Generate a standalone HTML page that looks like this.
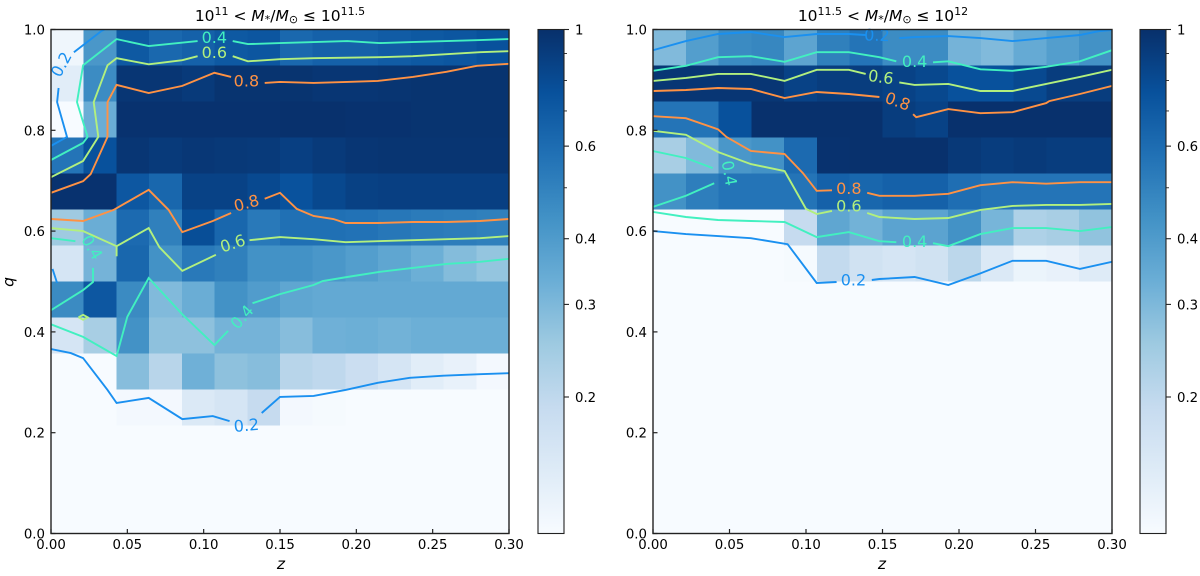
<!DOCTYPE html>
<html lang="en">
<head>
<meta charset="utf-8">
<title>Fraction maps in q and z</title>
<style>
html,body{margin:0;padding:0;background:#fff;width:1200px;height:576px;overflow:hidden}
svg{display:block}
text{font-family:"DejaVu Sans","Liberation Sans",sans-serif;fill:#000}
</style>
</head>
<body>
<svg id="chart" width="1200" height="576" viewBox="0 0 1200 576" xmlns="http://www.w3.org/2000/svg">
  <defs>
    <linearGradient id="blues" x1="0" y1="1" x2="0" y2="0">
      <stop offset="0" stop-color="#f7fbff"/><stop offset="0.125" stop-color="#deebf7"/>
      <stop offset="0.25" stop-color="#c6dbef"/><stop offset="0.375" stop-color="#9ecae1"/>
      <stop offset="0.5" stop-color="#6baed6"/><stop offset="0.625" stop-color="#4292c6"/>
      <stop offset="0.75" stop-color="#2171b5"/><stop offset="0.875" stop-color="#08519c"/>
      <stop offset="1" stop-color="#08306b"/>
    </linearGradient>
    <clipPath id="clip-left"><rect x="51" y="29.5" width="458" height="504"/></clipPath>
    <clipPath id="clip-right"><rect x="653" y="29.5" width="459" height="504"/></clipPath>
  </defs>
  <text x="280" y="21" text-anchor="middle" font-size="15.5">10<tspan dy="-6" font-size="11">11</tspan><tspan dy="6"> &lt; </tspan><tspan font-style="italic">M</tspan><tspan dy="2" font-size="11">*</tspan><tspan dy="-2">/</tspan><tspan font-style="italic">M</tspan><tspan dy="2" font-size="11">⊙</tspan><tspan dy="-2"> ≤ 10</tspan><tspan dy="-6" font-size="11">11.5</tspan></text>
  <text x="883" y="21" text-anchor="middle" font-size="15.5">10<tspan dy="-6" font-size="11">11.5</tspan><tspan dy="6"> &lt; </tspan><tspan font-style="italic">M</tspan><tspan dy="2" font-size="11">*</tspan><tspan dy="-2">/</tspan><tspan font-style="italic">M</tspan><tspan dy="2" font-size="11">⊙</tspan><tspan dy="-2"> ≤ 10</tspan><tspan dy="-6" font-size="11">12</tspan></text>
  <text transform="translate(13.5,282) rotate(-90)" text-anchor="middle" font-size="15.5" font-style="italic">q</text>
  <text x="281" y="569" text-anchor="middle" font-size="15.5" font-style="italic">z</text>
  <text x="882" y="569" text-anchor="middle" font-size="15.5" font-style="italic">z</text>
</svg>
<script>
// ---- axis ticks ----
const xTicks = [0, 0.05, 0.10, 0.15, 0.20, 0.25, 0.30];
const yTicks = [0, 0.2, 0.4, 0.6, 0.8, 1.0];
const colorbarTicks = [1, 0.6, 0.4, 0.3, 0.2];
const colorbarMinorTicks = [0.9, 0.8, 0.7, 0.5];
const colorbarTickLabels = ['1', '0.6', '0.4', '0.3', '0.2'];
const colorMin = 0.11;
const colorMax = 1;
const levels = [0.2, 0.4, 0.6, 0.8];

// ---- heatmap values: rows run from q = 1 (top) to q = 0, 14 columns in z ----
const leftGrid = [
 [.12,.415,.71,.62,.66,.71,.73,.62,.66,.66,.69,.71,.73,.76],
 [.14,.46,.95,.95,.92,.97,.97,.97,.95,.95,.96,.97,.97,.97],
 [.11,.335,.98,.98,.98,.98,.98,.99,.99,.98,.98,.97,.97,.97],
 [.56,.76,.95,.92,.94,.93,.92,.88,.92,.95,.96,.96,.96,.96],
 [.98,.98,.72,.63,.86,.86,.81,.75,.82,.87,.88,.88,.88,.88],
 [.25,.335,.61,.51,.78,.63,.54,.58,.58,.57,.55,.53,.52,.51],
 [.16,.315,.63,.435,.54,.51,.435,.435,.415,.39,.36,.33,.29,.265],
 [.465,.72,.465,.295,.335,.435,.395,.36,.35,.35,.35,.35,.35,.35],
 [.16,.235,.435,.275,.275,.315,.315,.285,.325,.33,.32,.33,.33,.33],
 [.11,.11,.285,.21,.325,.275,.285,.21,.2,.18,.16,.14,.13,.115],
 [.11,.11,.115,.115,.15,.16,.19,.115,.112,.11,.11,.11,.11,.11],
 [.11,.11,.11,.11,.11,.11,.11,.11,.11,.11,.11,.11,.11,.11],
 [.11,.11,.11,.11,.11,.11,.11,.11,.11,.11,.11,.11,.11,.11],
 [.11,.11,.11,.11,.11,.11,.11,.11,.11,.11,.11,.11,.11,.11]
];
const rightGrid = [
 [.295,.39,.465,.48,.365,.51,.56,.46,.46,.315,.295,.345,.39,.435],
 [.95,.95,.95,.95,.86,.9,.9,.86,.82,.76,.76,.81,.9,.9],
 [.56,.56,.76,.99,.99,.99,.99,.9,.86,.99,.99,.99,.99,.99],
 [.235,.295,.415,.435,.61,.98,.99,.99,.99,.93,.9,.92,.9,.9],
 [.435,.515,.56,.56,.56,.66,.63,.66,.66,.59,.56,.56,.56,.56],
 [.11,.11,.11,.11,.19,.36,.32,.37,.37,.435,.31,.225,.235,.27],
 [.11,.11,.11,.11,.112,.195,.17,.16,.17,.205,.15,.125,.13,.145],
 [.11,.11,.11,.11,.11,.11,.11,.11,.11,.11,.11,.11,.11,.11],
 [.11,.11,.11,.11,.11,.11,.11,.11,.11,.11,.11,.11,.11,.11],
 [.11,.11,.11,.11,.11,.11,.11,.11,.11,.11,.11,.11,.11,.11],
 [.11,.11,.11,.11,.11,.11,.11,.11,.11,.11,.11,.11,.11,.11],
 [.11,.11,.11,.11,.11,.11,.11,.11,.11,.11,.11,.11,.11,.11],
 [.11,.11,.11,.11,.11,.11,.11,.11,.11,.11,.11,.11,.11,.11],
 [.11,.11,.11,.11,.11,.11,.11,.11,.11,.11,.11,.11,.11,.11]
];

// ---- contour lines as [z, q] vertices; each level holds several pieces ----
const leftContour02 = [
 [[0,.769],[.0105,.787],[.004,.856],[.005,.884]],
 [[.015,.955],[.033,.997],[.035,1]],
 [[.001,.525],[.004,.497]],
 [[0,.366],[.013,.358],[.021,.348],[.037,.285],[.043,.259],[.064,.269],[.086,.227],[.106,.233],[.117,.223]],
 [[.138,.239],[.15,.271],[.172,.273],[.193,.285],[.214,.299],[.235,.309],[.257,.313],[.281,.316],[.3,.318]]
];
const leftContour04 = [
 [[0,.741],[.021,.775],[.024,.787],[.017,.856],[.021,.929],[.043,.981],[.064,.967],[.096,.977]],
 [[.119,.977],[.129,.971],[.15,.973],[.172,.975],[.194,.977],[.215,.973],[.236,.975],[.259,.977],[.281,.979],[.3,.981]],
 [[0,.586],[.016,.58]],
 [[.0275,.527],[.0275,.499],[.021,.483],[0,.443]],
 [[0,.415],[.021,.39],[.043,.352],[.05,.43],[.064,.507],[.086,.435],[.107,.374],[.116,.402]],
 [[.132,.457],[.15,.475],[.172,.493],[.178,.501],[.194,.509],[.215,.519],[.237,.527],[.259,.535],[.281,.539],[.3,.545]]
];
const leftContour06 = [
 [[0,.707],[.021,.739],[.031,.787],[.028,.856],[.037,.929],[.043,.943],[.064,.931],[.086,.939],[.096,.947]],
 [[.119,.947],[.129,.937],[.15,.941],[.172,.943],[.215,.945],[.237,.947],[.259,.951],[.281,.955],[.3,.957]],
 [[0,.606],[.021,.6],[.043,.57],[.064,.606],[.071,.568],[.086,.521],[.108,.553]],
 [[.13,.582],[.15,.588],[.172,.584],[.193,.578],[.214,.58],[.237,.582],[.281,.586],[.3,.59]],
 [[.043,.57],[.043,.55]],
 [[.018,.429],[.021,.434],[.024,.429],[.021,.424],[.018,.429]]
];
const leftContour08 = [
 [[0,.676],[.021,.699],[.026,.713],[.037,.787],[.037,.856],[.043,.89],[.064,.874],[.086,.888],[.107,.914],[.118,.906]],
 [[.14,.894],[.15,.896],[.172,.894],[.194,.896],[.214,.898],[.237,.906],[.259,.916],[.279,.928],[.3,.932]],
 [[0,.624],[.021,.62],[.041,.642],[.064,.682],[.077,.642],[.086,.598],[.106,.62],[.118,.636]],
 [[.14,.664],[.15,.676],[.161,.644],[.172,.63],[.185,.624],[.193,.616],[.214,.616],[.237,.618],[.259,.618],[.281,.62],[.3,.624]]
];
const rightContour02 = [
 [[0,.959],[.0215,.977],[.0425,.991],[.064,.995],[.086,.985],[.107,.991],[.128,.991],[.139,.989]],
 [[.161,.983],[.171,.985],[.193,.987],[.214,.983],[.235,.977],[.257,.983],[.279,.989],[.292,.997],[.3,.999]],
 [[0,.6],[.0215,.594],[.0425,.59],[.064,.586],[.088,.574],[.107,.497],[.12,.499]],
 [[.143,.503],[.148,.505],[.171,.509],[.193,.493],[.214,.516],[.235,.541],[.257,.541],[.279,.525],[.3,.539]]
];
const rightContour04 = [
 [[0,.918],[.0215,.928],[.0425,.945],[.064,.947],[.086,.936],[.107,.955],[.128,.955],[.148,.945],[.159,.937]],
 [[.183,.935],[.193,.937],[.214,.921],[.235,.918],[.257,.926],[.279,.937],[.3,.959]],
 [[0,.759],[.0215,.745],[.039,.725]],
 [[.04,.695],[.0215,.67],[0,.648]],
 [[0,.638],[.0215,.628],[.0425,.622],[.064,.62],[.086,.618],[.107,.588],[.128,.598],[.148,.58],[.159,.578]],
 [[.183,.576],[.193,.57],[.214,.594],[.235,.606],[.257,.606],[.279,.6],[.3,.608]]
];
const rightContour06 = [
 [[0,.898],[.0215,.904],[.0425,.912],[.064,.912],[.086,.898],[.107,.92],[.128,.92],[.139,.912]],
 [[.161,.895],[.171,.89],[.193,.892],[.214,.878],[.235,.878],[.257,.892],[.279,.906],[.3,.92]],
 [[0,.799],[.0215,.791],[.0425,.757],[.064,.733],[.086,.719],[.1,.644],[.107,.634],[.117,.64]],
 [[.14,.636],[.148,.628],[.171,.624],[.193,.626],[.214,.642],[.235,.65],[.257,.652],[.279,.652],[.3,.654]]
];
const rightContour08 = [
 [[0,.878],[.0215,.88],[.0425,.884],[.064,.882],[.086,.864],[.107,.876],[.128,.872],[.148,.866]],
 [[.17,.832],[.172,.826],[.193,.842],[.214,.834],[.235,.836],[.257,.854],[.259,.858],[.279,.872],[.3,.888]],
 [[0,.828],[.0215,.824],[.0425,.802],[.048,.787],[.064,.759],[.086,.753],[.098,.715],[.107,.68],[.117,.681]],
 [[.14,.676],[.148,.67],[.171,.67],[.193,.674],[.214,.691],[.235,.697],[.257,.694],[.279,.697],[.3,.697]]
];

// ---- inline contour labels: [level text, level index, z, q, angle] ----
const leftContourLabels = [
 ['0.2',0,.0066,.931,-62],['0.4',1,.107,.985,0],['0.6',2,.107,.955,0],['0.8',3,.128,.898,0],
 ['0.8',3,.128,.656,-15],['0.6',2,.119,.576,-18],['0.4',1,.027,.568,60],['0.4',1,.125,.43,-48],['0.2',0,.128,.215,-5]
];
const rightContourLabels = [
 ['0.2',0,.1464,.989,2],['0.4',1,.171,.937,0],['0.6',2,.149,.906,8],['0.8',3,.16,.858,20],
 ['0.8',3,.128,.685,0],['0.6',2,.128,.65,0],['0.4',1,.05,.715,80],['0.4',1,.171,.58,0],['0.2',0,.131,.503,0]
];

const svg = document.getElementById('chart');
const NS = 'http://www.w3.org/2000/svg';
const lineColors = ['#1a90f0', '#42f0c0', '#b2f07e', '#ff9244'];
const bluesStops = ['#f7fbff','#deebf7','#c6dbef','#9ecae1','#6baed6','#4292c6','#2171b5','#08519c','#08306b'];

function hexToRgb(h) {
  return [parseInt(h.slice(1,3),16), parseInt(h.slice(3,5),16), parseInt(h.slice(5,7),16)];
}
function colorFor(v) {
  let t = (Math.log10(v) - Math.log10(colorMin)) / (Math.log10(colorMax) - Math.log10(colorMin));
  t = Math.max(0, Math.min(1, t)) * (bluesStops.length - 1);
  const i = Math.min(Math.floor(t), bluesStops.length - 2);
  const f = t - i;
  const a = hexToRgb(bluesStops[i]);
  const b = hexToRgb(bluesStops[i + 1]);
  return 'rgb(' + a.map((c, k) => Math.round(c + (b[k] - c) * f)).join(',') + ')';
}
function mk(tag, attrs, parent) {
  const el = document.createElementNS(NS, tag);
  for (const k in attrs) el.setAttribute(k, attrs[k]);
  (parent || svg).appendChild(el);
  return el;
}

function drawPanel(side, x0, x1, cbX0, cbX1, grid, contours, labels) {
  const top = 29.5, bottom = 533.5;
  const sx = z => x0 + (z / 0.3) * (x1 - x0);
  const sy = q => bottom - q * (bottom - top);
  const scb = v => top + (Math.log10(colorMax) - Math.log10(v)) / (Math.log10(colorMax) - Math.log10(colorMin)) * (bottom - top);

  const heat = mk('g', {'shape-rendering': 'crispEdges'});
  
  
  const nCols = grid[0].length, nRows = grid.length;
  grid.forEach((row, r) => row.forEach((v, c) => {
    const xa = sx(c * 0.3 / nCols), xb = sx((c + 1) * 0.3 / nCols);
    const ya = sy(1 - r / nRows), yb = sy(1 - (r + 1) / nRows);
    const cell = mk('rect', {x: xa, y: ya, width: xb - xa + 0.5, height: yb - ya + 0.5, fill: colorFor(v)}, heat);
    
    
  }));

  const lines = mk('g', {'clip-path': 'url(#clip-' + side + ')', fill: 'none', 'stroke-width': 1.9, 'stroke-linejoin': 'miter'});
  
  
  contours.forEach((pieces, li) => pieces.forEach(pts => {
    const d = pts.map((p, i) => (i ? 'L' : 'M') + sx(p[0]).toFixed(1) + ' ' + sy(p[1]).toFixed(1)).join('');
    const path = mk('path', {d: d, stroke: lineColors[li]}, lines);
    
    
  }));

  labels.forEach(l => {
    const px = sx(l[2]), py = sy(l[3]);
    const t = mk('text', {x: px, y: py, dy: '0.36em', 'text-anchor': 'middle', 'font-size': 16, transform: 'rotate(' + l[4] + ' ' + px + ' ' + py + ')'});
    t.style.fill = lineColors[l[1]];
    t.textContent = l[0];
    
    
  });

  const frame = mk('rect', {x: x0, y: top, width: x1 - x0, height: bottom - top, fill: 'none', stroke: '#222', 'stroke-width': 1.4});
  
  

  xTicks.forEach(v => {
    const px = sx(v);
    const tick = mk('line', {x1: px, x2: px, y1: bottom, y2: bottom - 4.5, stroke: '#222', 'stroke-width': 1.2});
    
    
    const lab = mk('text', {x: px, y: 549, 'text-anchor': 'middle', 'font-size': 13.3});
    lab.textContent = v.toFixed(2);
    
    
  });
  yTicks.forEach(v => {
    const py = sy(v);
    const tick = mk('line', {x1: x0, x2: x0 + 4.5, y1: py, y2: py, stroke: '#222', 'stroke-width': 1.2});
    
    
    const lab = mk('text', {x: x0 - 6, y: py + 5, 'text-anchor': 'end', 'font-size': 13.3});
    lab.textContent = v.toFixed(1);
    
    
  });

  const bar = mk('rect', {x: cbX0, y: top, width: cbX1 - cbX0, height: bottom - top, fill: 'url(#blues)', stroke: '#222', 'stroke-width': 1.1});
  
  
  colorbarTicks.forEach((v, i) => {
    const py = scb(v);
    const tick = mk('line', {x1: cbX1, x2: cbX1 + 5, y1: py, y2: py, stroke: '#222', 'stroke-width': 1.1});
    
    
    const lab = mk('text', {x: cbX1 + 11, y: py + 5, 'font-size': 13.3});
    lab.textContent = colorbarTickLabels[i];
    
    
  });
  colorbarMinorTicks.forEach(v => {
    const py = scb(v);
    const tick = mk('line', {x1: cbX1, x2: cbX1 + 3, y1: py, y2: py, stroke: '#222', 'stroke-width': 0.9});
    
    
  });
}

drawPanel('left', 51, 509, 538, 564, leftGrid,
  [leftContour02, leftContour04, leftContour06, leftContour08], leftContourLabels);
drawPanel('right', 653, 1112, 1140, 1166, rightGrid,
  [rightContour02, rightContour04, rightContour06, rightContour08], rightContourLabels);
</script>
</body>
</html>
